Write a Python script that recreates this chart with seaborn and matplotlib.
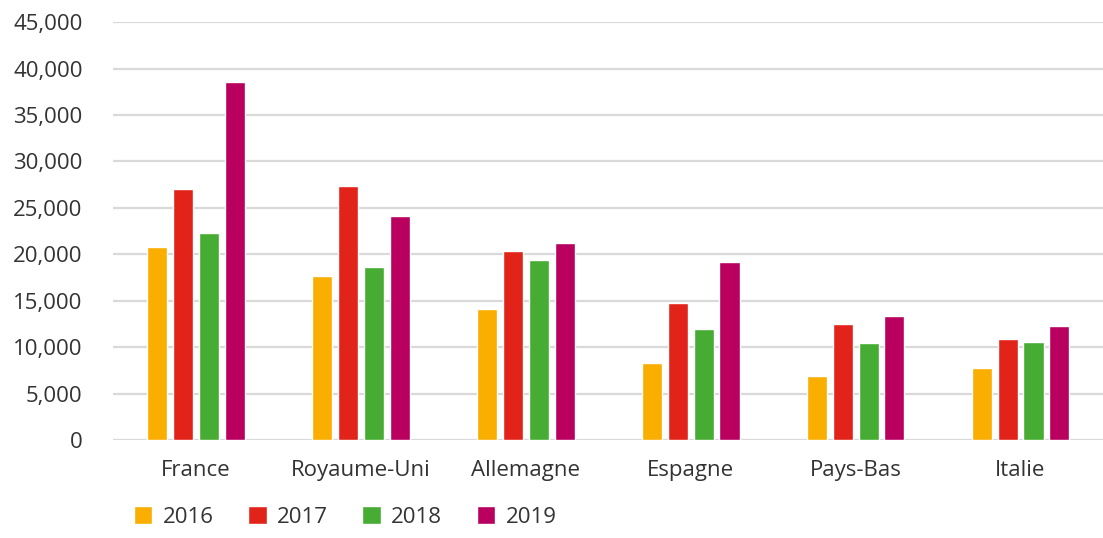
import pandas as pd
import matplotlib.pyplot as plt
import seaborn as sns
from matplotlib.ticker import FuncFormatter

countries = ["France", "Royaume-Uni", "Allemagne", "Espagne", "Pays-Bas", "Italie"]
years = ["2016", "2017", "2018", "2019"]
v2016 = [20800, 17700, 14100, 8300, 6900, 7800]
v2017 = [27000, 27300, 20400, 14800, 12500, 10900]
v2018 = [22300, 18600, 19400, 12000, 10400, 10600]
v2019 = [38500, 24100, 21200, 19200, 13400, 12300]
colors = ["#FAAE00", "#E2231A", "#46AC34", "#B9005F"]

# --- long-form table for seaborn ---
rows = []
for year, vals in zip(years, [v2016, v2017, v2018, v2019]):
    for c, v in zip(countries, vals):
        rows.append({"pays": c, "annee": year, "valeur": v})
df = pd.DataFrame(rows)

sns.set_theme(style="white")
plt.rcParams["font.family"] = ["Open Sans", "DejaVu Sans"]

fig = plt.figure(figsize=(11.03, 5.38), dpi=100)
ax = fig.add_axes([0.1025, 0.182, 0.8975, 0.777])

sns.barplot(data=df, x="pays", y="valeur", hue="annee", order=countries,
            hue_order=years, palette=dict(zip(years, colors)),
            width=0.63, gap=0.23, saturation=1, ax=ax, legend=True)

ax.set_ylim(0, 45000)
ax.set_xlim(-0.5, 5.5)
ax.set_yticks(range(0, 45001, 5000))
ax.yaxis.set_major_formatter(FuncFormatter(lambda v, p: f"{int(v):,}"))
ax.grid(axis="y", color="#D9D9D9", linewidth=1.6)
ax.set_axisbelow(True)
sns.despine(ax=ax, left=True, bottom=True)
ax.set_xlabel("")
ax.set_ylabel("")
ax.tick_params(axis="y", length=0, pad=22, labelsize=16, labelcolor="#333333")
ax.tick_params(axis="x", length=0, pad=14, labelsize=16, labelcolor="#333333")

handles, labels = ax.get_legend_handles_labels()
ax.get_legend().remove()
fig.legend(handles, labels, loc="lower left", bbox_to_anchor=(0.103, -0.018),
           ncol=4, frameon=False, fontsize=16, handlelength=0.85, handleheight=0.85,
           handletextpad=0.45, columnspacing=1.55, labelcolor="#333333")

fig.savefig("out.png", dpi=100)
